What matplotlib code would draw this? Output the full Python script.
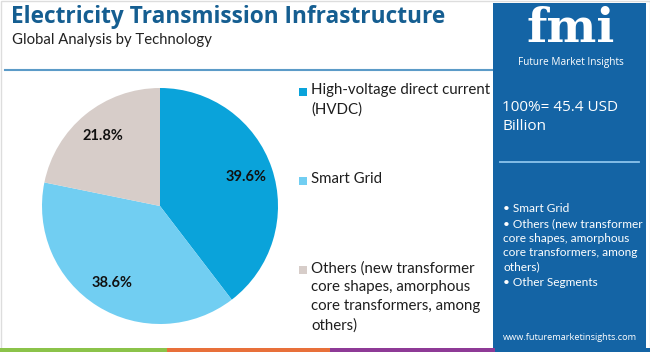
#!/usr/bin/env python3
import matplotlib
matplotlib.use("Agg")
import matplotlib.pyplot as plt
from matplotlib.patches import Rectangle
from matplotlib.lines import Line2D

# data
segments = ["High-voltage direct current\n(HVDC)", "Smart Grid",
            "Others (new transformer\ncore shapes, amorphous\ncore transformers, among\nothers)"]
shares = [39.6, 38.6, 21.8]
colors = ["#0AA3DA", "#71CEF2", "#D7CDC9"]
title = "Electricity Transmission Infrastructure"
subtitle = "Global Analysis by Technology"
market_size = "100%= 45.4 USD\nBillion"
panel_items = ["\u2022 Smart Grid",
               "\u2022 Others (new transformer\ncore shapes, amorphous\ncore transformers, among\nothers)",
               "\u2022 Other Segments"]
stripe_colors = ["#8BC34A", "#E8703A", "#8E3A96", "#1464A5"]

W, H = 650, 352
fig = plt.figure(figsize=(W / 100, H / 100), dpi=100)
fig.patch.set_facecolor("white")
bg = fig.add_axes([0, 0, 1, 1])
bg.set_xlim(0, W)
bg.set_ylim(H, 0)
bg.axis("off")

# outer border
bg.add_patch(Rectangle((0.5, 0.5), W - 1, H - 1, fill=False, ec="#DDDDDD", lw=1))

# title block
bg.text(11, 17, title, fontsize=16.3, fontweight="bold", color="#155E91",
        family="Open Sans", va="center", ha="left")
bg.text(12, 40, subtitle, fontsize=10.7, color="#222222", family="Lato",
        va="center", ha="left")
bg.add_line(Line2D([5, 492], [70, 70], color="#5B9BC8", lw=1.5))

# right panel
bg.add_patch(Rectangle((493, 3), 153, 345, color="#1464A5", lw=0))
bg.text(571, 29, "fmi", fontsize=34, fontweight="bold", color="white",
        family="DejaVu Serif", ha="center", va="center")
bg.text(571, 63, "Future Market Insights", fontsize=7.2, color="white",
        family="Open Sans", ha="center", va="center")
bg.text(502, 117, market_size, fontsize=11, color="white", family="Open Sans",
        ha="left", va="center", linespacing=1.45)
bg.add_line(Line2D([500, 639], [162, 162], color="#8CC4EC", lw=1.3))
y = 208
for item in panel_items:
    for line in item.split("\n"):
        bg.text(503, y, line, fontsize=8.6, color="white", family="Lato",
                ha="left", va="center")
        y += 14.4
    y += 1.5
bg.text(570, 337, "www.futuremarketinsights.com", fontsize=6.6, color="white",
        family="Open Sans", ha="center", va="center")

# bottom stripe
x0 = 0
for c, x1 in zip(stripe_colors, [167, 330, 495, 650]):
    bg.add_patch(Rectangle((x0, 348), x1 - x0, 4, color=c, lw=0))
    x0 = x1

# legend
legend_y = [92, 181, 270]
for seg, c, ly in zip(segments, colors, legend_y):
    bg.add_patch(Rectangle((299, ly - 4), 8, 8, color=c, lw=0))
    bg.text(311, ly - 9, seg, fontsize=10.8, color="#1E1E1E", family="Lato",
            ha="left", va="top", linespacing=1.45)

# pie, drawn clockwise from 12 o'clock
ax = fig.add_axes([42 / W, 28 / H, 236 / W, 236 / H])
wedges, texts, autotexts = ax.pie(
    shares, colors=colors, startangle=90, counterclock=False,
    autopct="%.1f%%", pctdistance=0.77,
    textprops=dict(fontsize=10.5, fontweight="bold", color="#111111", family="Lato"))
ax.set_xlim(-1, 1)
ax.set_ylim(-1, 1)
ax.set_aspect("equal")

fig.savefig("out.png", dpi=100)
